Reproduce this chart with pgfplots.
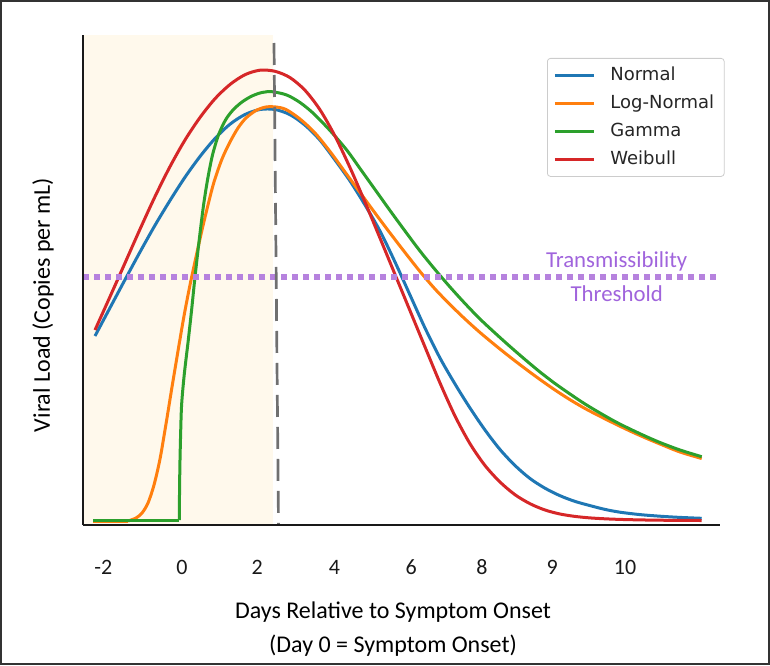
\documentclass[border=0pt]{standalone}
\usepackage{fontspec}
\setmainfont{Carlito}
\newfontfamily\legfont{DejaVu Sans}
\usepackage{pgfplots}
\pgfplotsset{compat=1.18}

\definecolor{cNormal}{HTML}{1F77B4}
\definecolor{cLog}{HTML}{FF7F0E}
\definecolor{cGamma}{HTML}{2CA02C}
\definecolor{cWeib}{HTML}{D62728}
\definecolor{shade}{RGB}{255,249,236}
\definecolor{vline}{RGB}{112,112,112}
\definecolor{thrline}{RGB}{182,130,222}
\definecolor{thrtext}{RGB}{160,100,220}
\definecolor{framec}{RGB}{51,51,51}

% x: pixel column of the original, y: height above the day axis
\begin{document}
\begin{tikzpicture}
\begin{axis}[
  x=0.5pt, y=0.5pt,
  xmin=83, xmax=720, ymin=0, ymax=490,
  enlargelimits=false, clip=false, axis on top,
  axis x line*=bottom, axis y line*=left,
  axis line style={line width=1pt, color=black!90},
  ytick=\empty,
  xtick={103.4,181.9,257.3,334.5,411.3,482,552.2,625},
  xticklabels={-2,0,2,4,6,8,9,10},
  major tick length=0pt,
  xticklabel style={anchor=center, yshift=-21pt, text=black!90,
    font=\fontsize{11}{13}\selectfont},
  xlabel={Days Relative to Symptom Onset\\(Day 0 = Symptom Onset)},
  xlabel style={at={(axis description cs:0.4867,-0.212)}, anchor=center,
    align=center, font=\fontsize{12}{16.75}\selectfont},
  ylabel={Viral Load (Copies per mL)},
  ylabel style={at={(axis description cs:-0.0628,0.449)}, anchor=center,
    font=\fontsize{12}{14}\selectfont},
  legend style={at={(axis cs:547,467)}, anchor=north west,
    draw=black!20, rounded corners=1.5pt, fill=white,
    font=\legfont\fontsize{9}{11}\selectfont, text=black!85,
    inner xsep=3pt, inner ysep=1.5pt, row sep=0pt, column sep=5.5pt,
    nodes={inner xsep=2pt, inner ysep=2.55pt, text height=6.8pt, text depth=2.1pt}},
  legend cell align=left,
  legend image code/.code={\draw[#1, line width=1.5pt] (0pt,0pt) -- (19.5pt,0pt);},
  every axis plot/.append style={line width=1.5pt, line join=round},
]
% pre-symptomatic window
\addplot[fill=shade, draw=none, forget plot] coordinates {(84,0)(273,0)(273,490)(84,490)} -- cycle;

% Normal
\addplot[cNormal, smooth] coordinates {
 (95,189)(110,217.2)(125,245.3)(140,273)(155,299.7)(170,324.5)(185,347.8)(200,368.5)
 (215,386.5)(230,400.8)(245,410.5)(260,415.5)(275,415.5)(290,410.3)(305,399.8)
 (320,384.8)(335,365)(350,344)(365,320)(380,294)(395,263)(410,230)(425,197)(440,167)
 (455,141)(470,117)(485,95)(500,75.5)(515,59.5)(530,46.5)(545,36.8)(560,29.3)
 (575,23.6)(590,19.4)(605,15.6)(620,12.8)(640,10.4)(660,8.8)(680,7.6)(701.7,6.7)};
\addlegendentry{Normal}

% Log-Normal
\addplot[cLog, forget plot] coordinates {(93,4)(128,4)};
\addplot[cLog, smooth] coordinates {
 (128,4)(136,7)(142,12)(148,22)(154,40)(160,66)(166,101)(172,138)(178,174)(184,209)
 (190,240)(196,268)(202,295)(208,320)(214,343)(222,366)(230,383)(238,397)(246,407)
 (256,414.5)(266,418)(276,418)(286,415.5)(300,406)(315,392)(330,373.5)(345,353)
 (360,332.5)(375,312)(390,292)(405,272.5)(420,253.5)(435,236)(450,220.5)(465,206)
 (480,192.5)(495,180)(510,168)(525,156.5)(540,145.5)(555,135)(570,125.3)(585,116.5)
 (600,108.7)(615,101.2)(630,94)(645,87.3)(660,81)(680,73)(701.7,66.5)};
\addlegendentry{Log-Normal}

% Gamma
\addplot[cGamma, forget plot] coordinates {(93,5)(179.3,5)};
\addplot[cGamma, smooth] coordinates {
 (179.3,5)(179.5,30)(179.9,60)(180.6,90)(181.6,120)(184.2,150)(188.3,185)(191.6,215)
 (195,248)(199.2,285)(203.3,318)(207.5,345)(212.5,370)(218.5,390)(225.5,405)(233,415)
 (242,423)(252,429)(262,432.5)(272,433.3)(286.7,430)(300,422.5)(313.3,411.7)
 (330,394.5)(346.7,375)(360,356.5)(375,335.5)(390,314.5)(405,294)(420,274)
 (435,255.5)(450,238)(465,221.5)(480,206)(495,192)(510,178.5)(525,165.5)(540,153)
 (555,141.5)(570,131)(585,121)(600,112)(615,103.5)(630,96)(645,89)(660,82.5)
 (680,75)(701.7,68.3)};
\addlegendentry{Gamma}

% Weibull
\addplot[cWeib, smooth] coordinates {
 (95,195)(110,228.3)(125,262)(140,295.8)(155,328.4)(170,358.4)(185,385)(200,407.5)
 (215,426.3)(230,440.5)(245,450.3)(260,454.8)(275,453.7)(290,447.4)(305,434.7)
 (320,415.2)(335,388.9)(350,357.4)(365,322.9)(380,286.9)(395,250.6)(410,214.3)
 (425,178)(440,142)(455,109)(470,81.3)(485,59.5)(500,43)(515,30.3)(530,21.3)
 (545,15)(560,11)(575,8.6)(590,7.1)(605,6.2)(620,5.6)(640,5.1)(660,4.8)(680,4.6)
 (701.7,4.5)};
\addlegendentry{Weibull}

% transmissibility threshold
\addplot[thrline, line width=3pt, dash pattern=on 3pt off 2.5pt, forget plot]
  coordinates {(83,248.3)(720,248.3)};
\node[text=thrtext, font=\fontsize{11.4}{13}\selectfont] at (axis cs:616.7,263.3) {Transmissibility};
\node[text=thrtext, font=\fontsize{11.4}{13}\selectfont] at (axis cs:616.7,231.7) {Threshold};

% symptom window marker
\addplot[vline, line width=1.35pt, dash pattern=on 11pt off 5pt, forget plot]
  coordinates {(274,482)(278.5,1)};

% outer frame
\draw[framec, line width=1pt] (axis cs:1,-139) rectangle (axis cs:769,524);
\end{axis}
\end{tikzpicture}
\end{document}
